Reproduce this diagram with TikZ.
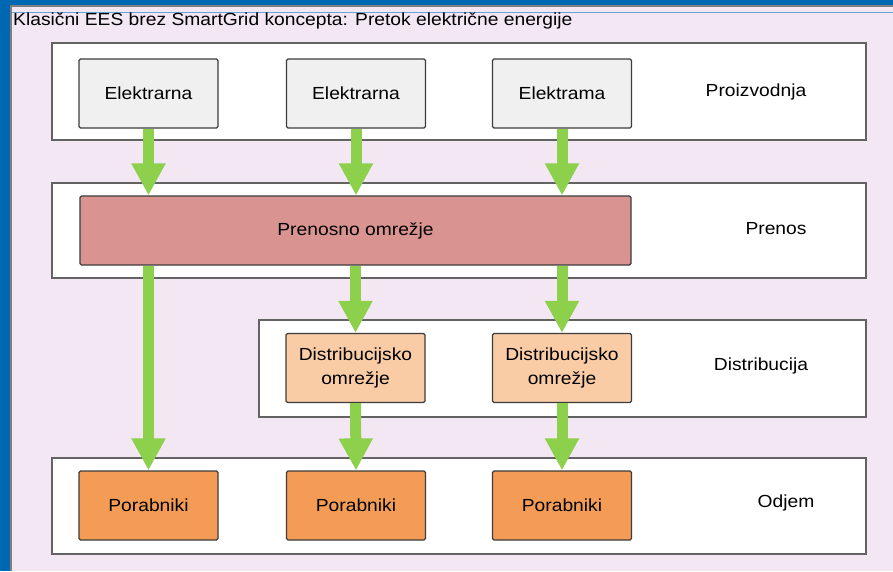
\documentclass[tikz,border=0pt]{standalone}
\usepackage{fontspec}
\setmainfont[FakeStretch=1.1]{Liberation Sans}
\usetikzlibrary{arrows.meta}
\definecolor{deskblue}{RGB}{0,104,178}
\definecolor{panel}{RGB}{243,231,244}
\definecolor{plantgray}{RGB}{240,240,240}
\definecolor{gridred}{RGB}{217,148,145}
\definecolor{distorange}{RGB}{250,204,166}
\definecolor{loadorange}{RGB}{244,156,85}
\definecolor{flowgreen}{RGB}{140,208,76}
\definecolor{edge}{RGB}{60,60,60}

\begin{document}
\begin{tikzpicture}[x=1pt, y=-1pt,
  font=\fontsize{17.5}{24}\selectfont,
  band/.style={fill=white, draw=edge!80, line width=1.6pt},
  unit/.style={draw=edge, line width=1.2pt, rounded corners=1.5pt,
    minimum width=139pt, minimum height=69pt, align=center, inner sep=2pt},
  flow/.style={draw=flowgreen, line width=11pt,
    -{Triangle[width=32pt, length=32pt]}}]
  \useasboundingbox (0,0) rectangle (893,571);
  % screen and panel
  \fill [deskblue] (0,0) rectangle (893,571);
  \fill [panel] (10,5) rectangle (893,571);
  \draw [gray, line width=2pt] (11,571) -- (11,6) -- (893,6);
  \draw [deskblue!60, line width=0.6pt] (12,12.5) -- (893,12.5);
  \node [anchor=west, inner sep=0pt] (title) at (13,21)
    {Klasični EES brez SmartGrid koncepta: Pretok električne energije};

  % layers
  \draw [band] (52,43) rectangle (866,140);
  \draw [band] (52,183) rectangle (866,278);
  \draw [band] (259,320) rectangle (866,417);
  \draw [band] (52,458) rectangle (866,554);

  \node (E1) [unit, fill=plantgray] at (148.5,93.5) {Elektrarna};
  \node (E2) [unit, fill=plantgray] at (356,93.5) {Elektrarna};
  \node (E3) [unit, fill=plantgray] at (562,93.5) {Elektrama};
  \node (PR) [unit, fill=gridred, minimum width=551pt] at (355.5,230.5) {Prenosno omrežje};
  \node (D1) [unit, fill=distorange] at (355.5,368) {Distribucijsko\\omrežje};
  \node (D2) [unit, fill=distorange] at (562,368) {Distribucijsko\\omrežje};
  \node (P1) [unit, fill=loadorange] at (148.5,505.5) {Porabniki};
  \node (P2) [unit, fill=loadorange] at (356,505.5) {Porabniki};
  \node (P3) [unit, fill=loadorange] at (562,505.5) {Porabniki};

  \node (LP) at (756,92) {Proizvodnja};
  \node (LT) at (776,229) {Prenos};
  \node (LD) at (761,366) {Distribucija};
  \node (LO) at (786,503) {Odjem};

  % energy flow
  \draw [flow] (E1.south) -- (E1.south |- PR.north);
  \draw [flow] (E2.south) -- (E2.south |- PR.north);
  \draw [flow] (E3.south) -- (E3.south |- PR.north);
  \draw [flow] (P1.north |- PR.south) -- (P1.north);
  \draw [flow] (D1.north |- PR.south) -- (D1.north);
  \draw [flow] (D2.north |- PR.south) -- (D2.north);
  \draw [flow] (D1.south) -- (P2.north);
  \draw [flow] (D2.south) -- (P3.north);
\end{tikzpicture}
\end{document}
